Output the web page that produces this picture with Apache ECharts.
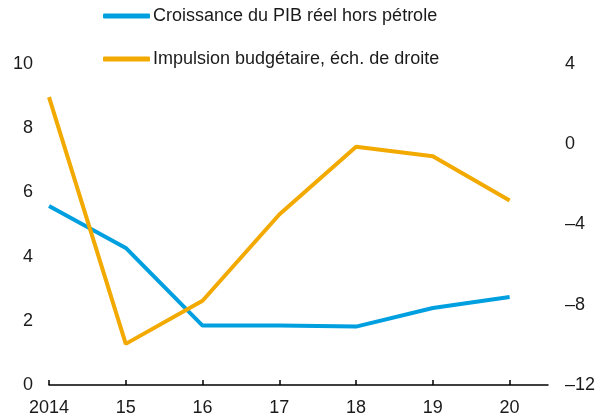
<!DOCTYPE html>
<html>
<head>
<meta charset="utf-8">
<script src="https://cdn.jsdelivr.net/npm/echarts@6/dist/echarts.min.js"></script>
<style>
  html, body { margin: 0; padding: 0; background: #fff; }
  #main { width: 603px; height: 420px; }
</style>
</head>
<body>
<div id="main"></div>
<script>
// années et valeurs
var years = [2014, 2015, 2016, 2017, 2018, 2019, 2020];
var pibHorsPetrole = [5.58, 4.27, 1.85, 1.85, 1.82, 2.4, 2.74];
var impulsionBudget = [2.35, -9.95, -7.8, -3.5, -0.12, -0.6, -2.8];
var leftTicks = [0, 2, 4, 6, 8, 10];
var rightTicks = [-12, -8, -4, 0, 4];

var blue = '#009fdf';
var orange = '#f2a900';
var font = 'Liberation Sans, Arial, sans-serif';

function pairs(vals) {
	var out = [];
	for (var i = 0; i < years.length; i++) {
		out.push([years[i], vals[i]]);
	}
	return out;
}

var option = {
	animation: false,
	textStyle: { fontFamily: font },
	grid: { left: 49, right: 55, top: 64, bottom: 35 },
	legend: {
		orient: 'vertical',
		left: 103,
		top: 7,
		padding: 0,
		itemWidth: 47,
		itemHeight: 5,
		itemGap: 25,
		icon: 'roundRect',
		textStyle: { fontFamily: font, fontSize: 18, color: '#1a1a1a', padding: [0, 0, 0, -2] },
		data: ['Croissance du PIB réel hors pétrole', 'Impulsion budgétaire, éch. de droite']
	},
	xAxis: {
		type: 'value',
		min: 2014,
		max: 2020.5,
		splitLine: { show: false },
		axisLine: { show: true, onZero: false, lineStyle: { color: '#000', width: 1.5 } },
		axisTick: { show: true, inside: true, length: 5, lineStyle: { color: '#000', width: 1.5 }, customValues: years },
		axisLabel: {
			customValues: years,
			fontSize: 18,
			color: '#1a1a1a',
			margin: 14,
			formatter: function(v) {
				return v === 2014 ? '2014' : String(v).slice(2);
			}
		}
	},
	yAxis: [{
		type: 'value',
		min: 0,
		max: 10,
		interval: 2,
		position: 'left',
		splitLine: { show: false },
		axisLine: { show: false },
		axisTick: { show: false },
		axisLabel: { customValues: leftTicks, fontSize: 18, color: '#1a1a1a', margin: 16 }
	}, {
		type: 'value',
		min: -12,
		max: 4,
		interval: 4,
		position: 'right',
		splitLine: { show: false },
		axisLine: { show: false },
		axisTick: { show: false },
		axisLabel: {
			customValues: rightTicks,
			fontSize: 18,
			color: '#1a1a1a',
			margin: 17,
			formatter: function(v) {
				return String(v).replace('-', '\u2013');
			}
		}
	}],
	series: [{
		name: 'Croissance du PIB réel hors pétrole',
		type: 'line',
		yAxisIndex: 0,
		data: pairs(pibHorsPetrole),
		symbol: 'none',
		color: blue,
		lineStyle: { color: blue, width: 4 }
	}, {
		name: 'Impulsion budgétaire, éch. de droite',
		type: 'line',
		yAxisIndex: 1,
		data: pairs(impulsionBudget),
		symbol: 'none',
		color: orange,
		lineStyle: { color: orange, width: 4 }
	}]
};

var myChart = echarts.init(document.getElementById('main'));
myChart.setOption(option);
</script>
</body>
</html>
